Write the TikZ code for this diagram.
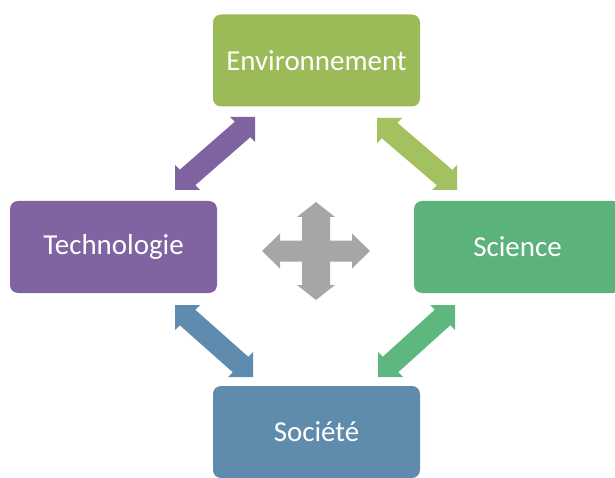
\documentclass[tikz,border=0pt]{standalone}
\usepackage{fontspec}
\setmainfont{Carlito}
\usetikzlibrary{calc}
\definecolor{envgreen}{HTML}{9BBB59}
\definecolor{envarrow}{HTML}{A3C15F}
\definecolor{techpurple}{HTML}{8064A2}
\definecolor{techarrow}{HTML}{7F63A1}
\definecolor{scigreen}{HTML}{5BB27B}
\definecolor{sciarrow}{HTML}{5DB77E}
\definecolor{socblue}{HTML}{5F8BAD}
\definecolor{socarrow}{HTML}{5E8BAE}
\definecolor{crossgray}{HTML}{A6A6A6}
\tikzset{
  topic/.style={rectangle, rounded corners=6pt, minimum width=155.25pt, minimum height=69pt,
    inner sep=0pt, text=white, font=\fontsize{21.7}{26}\selectfont},
}
% double block arrow, tips A and B, B up-right of A (image coords)
\newcommand\dblup[3]{\fill[#3] (#1) -- ($(#1)+(25,0)$) -- ($(#1)+(20.25,-4.75)$) -- ($(#2)+(-4.75,20.25)$) -- ($(#2)+(0,25)$) -- (#2) -- ($(#2)+(-25,0)$) -- ($(#2)+(-20.25,4.75)$) -- ($(#1)+(4.75,-20.25)$) -- ($(#1)+(0,-25)$) -- cycle;}
% double block arrow, tips A and B, B down-right of A (image coords)
\newcommand\dbldown[3]{\fill[#3] (#1) -- ($(#1)+(25,0)$) -- ($(#1)+(20.25,4.75)$) -- ($(#2)+(-4.75,-20.25)$) -- ($(#2)+(0,-25)$) -- (#2) -- ($(#2)+(-25,0)$) -- ($(#2)+(-20.25,-4.75)$) -- ($(#1)+(4.75,20.25)$) -- ($(#1)+(0,25)$) -- cycle;}
\begin{document}
\begin{tikzpicture}[x=0.75pt, y=-0.75pt]
\useasboundingbox (0,0) rectangle (615,478);
\begin{scope}
\clip (0,0) rectangle (615,478);
\node[topic, fill=envgreen] (env) at (316.5,60.5) {Environnement};
\node[topic, fill=techpurple] (tech) at (113.5,247) {Technologie};
\node[topic, fill=scigreen] (sci) at (517.5,247) {Science};
\node[topic, fill=socblue] (soc) at (316.5,432) {Société};
\end{scope}
% arrow tips
\coordinate (te1) at (175,190); \coordinate (te2) at (255,117);
\coordinate (es1) at (377,118); \coordinate (es2) at (457,190);
\coordinate (ts1) at (175,305); \coordinate (ts2) at (253,377);
\coordinate (ss1) at (378,377); \coordinate (ss2) at (455,305);
\dblup{te1}{te2}{techarrow}
\dbldown{es1}{es2}{envarrow}
\dbldown{ts1}{ts2}{socarrow}
\dblup{ss1}{ss2}{sciarrow}
% central four-way arrow
\coordinate (c) at (316,251);
\fill[crossgray] (316,202) -- (335,217) -- (330,217) -- (330,240.5) -- (352,240.5) -- (352,233.5)
  -- (370,251) -- (352,268.5) -- (352,261.5) -- (330,261.5) -- (330,285) -- (335,285)
  -- (316,300) -- (297,285) -- (302,285) -- (302,261.5) -- (280,261.5) -- (280,268.5)
  -- (262,251) -- (280,233.5) -- (280,240.5) -- (302,240.5) -- (302,217) -- (297,217) -- cycle;
\end{tikzpicture}
\end{document}
